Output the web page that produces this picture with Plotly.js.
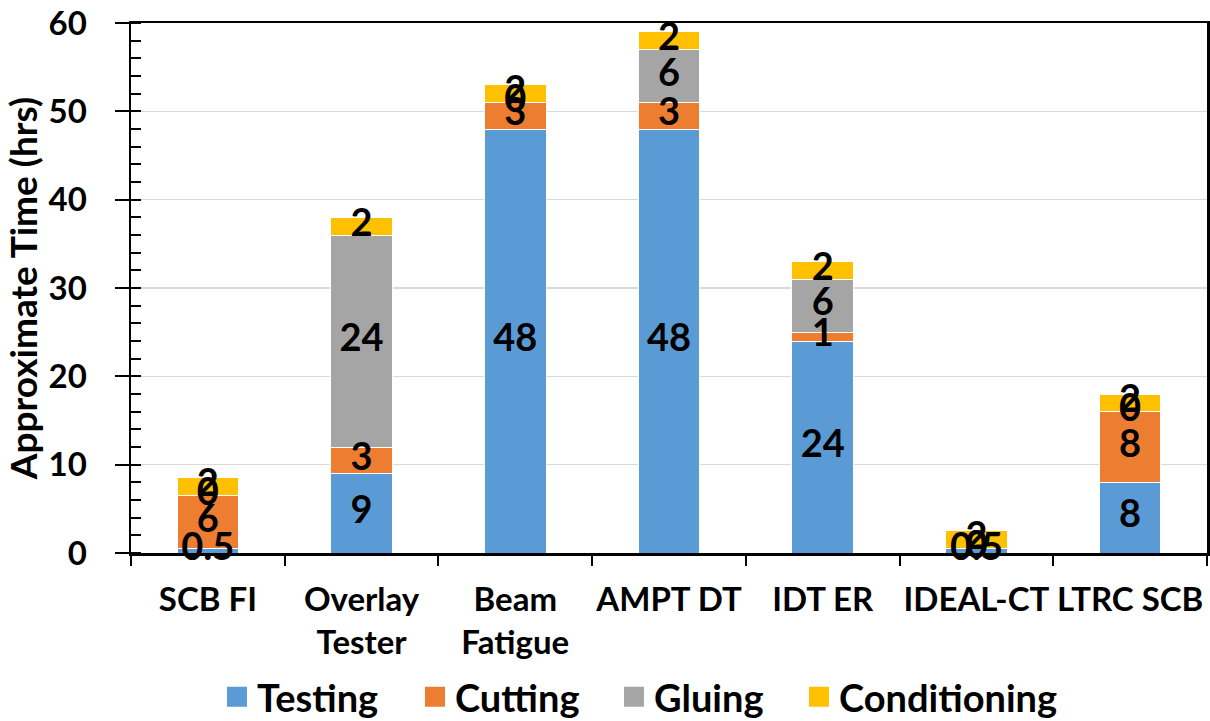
<!DOCTYPE html>
<html>
<head>
<meta charset="utf-8">
<script src="https://cdn.plot.ly/plotly-3.0.1.min.js"></script>
<style>html,body{margin:0;padding:0;background:#fff;}#chart{width:1210px;height:721px;}</style>
</head>
<body>
<div id="chart"></div>
<script>
const categories = ["SCB FI", "Overlay<br>Tester", "Beam<br>Fatigue", "AMPT DT", "IDT ER", "IDEAL-CT", "LTRC SCB"];
const testing      = [0.5, 9, 48, 48, 24, 0.5, 8];
const cutting      = [6, 3, 3, 3, 1, 0, 8];
const gluing       = [0, 24, 0, 6, 6, 0, 0];
const conditioning = [2, 2, 2, 2, 2, 2, 2];
const seriesNames  = ["Testing", "Cutting", "Gluing", "Conditioning"];
const seriesColors = ["#5B9BD5", "#ED7D31", "#A5A5A5", "#FFC000"];
const yTicks = [0, 10, 20, 30, 40, 50, 60];

const FONT = "Lato, 'Open Sans', 'DejaVu Sans', sans-serif";
const series = [testing, cutting, gluing, conditioning];
const legendWidths = [153, 154, 140, 0];

const traces = [];
series.forEach((vals, i) => {
  traces.push({
    type: "bar", name: seriesNames[i], x: categories, y: vals,
    marker: {color: seriesColors[i], line: {color: "#ffffff", width: 1}},
    hoverinfo: "x+y+name", showlegend: false, legendgroup: seriesNames[i]
  });
});
// legend entries (square swatches)
series.forEach((vals, i) => {
  const t = {
    type: "scatter", mode: "markers", name: "<b>" + seriesNames[i] + "</b>", x: [null], y: [null],
    marker: {symbol: "square", size: 22, color: seriesColors[i], line: {width: 4, color: seriesColors[i]}},
    legendgroup: seriesNames[i], showlegend: true, hoverinfo: "skip"
  };
  if (legendWidths[i]) t.legendwidth = legendWidths[i];
  traces.push(t);
});
// data labels centred in each segment
const base = categories.map(() => 0);
series.forEach((vals, i) => {
  const mids = vals.map((v, k) => base[k] + v / 2);
  vals.forEach((v, k) => { base[k] += v; });
  traces.push({
    type: "scatter", mode: "text", x: categories, y: mids,
    text: vals.map(v => "<b>" + String(v) + "</b>"), textposition: "middle center",
    textfont: {family: FONT, size: 38, color: "#000000"},
    showlegend: false, hoverinfo: "skip", cliponaxis: false
  });
});

const nCat = categories.length;
const boundaries = [];
for (let k = 0; k <= nCat; k++) boundaries.push(k - 0.5);

const layout = {
  width: 1210, height: 721,
  margin: {l: 131, r: 3, t: 23, b: 168},
  paper_bgcolor: "#ffffff", plot_bgcolor: "#ffffff",
  barmode: "stack", bargap: 0.6,
  font: {family: FONT, color: "#000000", size: 33},
  showlegend: true,
  legend: {orientation: "h", x: 0.0799, xanchor: "left", yref: "container", y: 0.0333, yanchor: "middle",
           font: {family: FONT, size: 38, color: "#000000"}, traceorder: "normal", itemsizing: "trace"},
  xaxis: {
    type: "category", tickson: "boundaries", ticks: "outside", ticklen: 10, tickwidth: 2,
    tickcolor: "#000", showline: true, linecolor: "#000", linewidth: 2.5, mirror: true,
    tickangle: 0, tickfont: {family: FONT, size: 33, color: "#000", weight: "bold"}, automargin: false,
    ticklabelstandoff: 16
  },
  xaxis2: {
    overlaying: "x", anchor: "y", type: "linear", range: [-0.5, nCat - 0.5],
    tickmode: "array", tickvals: boundaries, ticks: "inside", ticklen: 12, tickwidth: 2,
    tickcolor: "#000", showticklabels: false, showgrid: false, showline: false, zeroline: false
  },
  yaxis: {
    range: [0, 60], tickmode: "array", tickvals: yTicks, ticks: "outside", ticklen: 14, tickwidth: 2,
    tickcolor: "#000", showline: true, linecolor: "#000", linewidth: 2.5, mirror: true,
    showgrid: true, gridcolor: "#D9D9D9", gridwidth: 1.5, zeroline: false,
    minor: {dtick: 2, ticks: "inside", ticklen: 10, tickwidth: 2, tickcolor: "#000", showgrid: false},
    tickfont: {family: FONT, size: 33, color: "#000", weight: "bold"},
    ticklabelstandoff: 21, automargin: false,
    title: {text: "<b>Approximate Time (hrs)</b>", font: {family: FONT, size: 37, color: "#000"}, standoff: 2}
  },
  yaxis2: {
    overlaying: "y", anchor: "x", side: "left", range: [0, 60], tickmode: "array", tickvals: yTicks,
    ticks: "inside", ticklen: 12, tickwidth: 2, tickcolor: "#000",
    showticklabels: false, showgrid: false, showline: false, zeroline: false
  }
};

Plotly.newPlot("chart", traces, layout, {displayModeBar: false, staticPlot: true});
</script>
</body>
</html>
